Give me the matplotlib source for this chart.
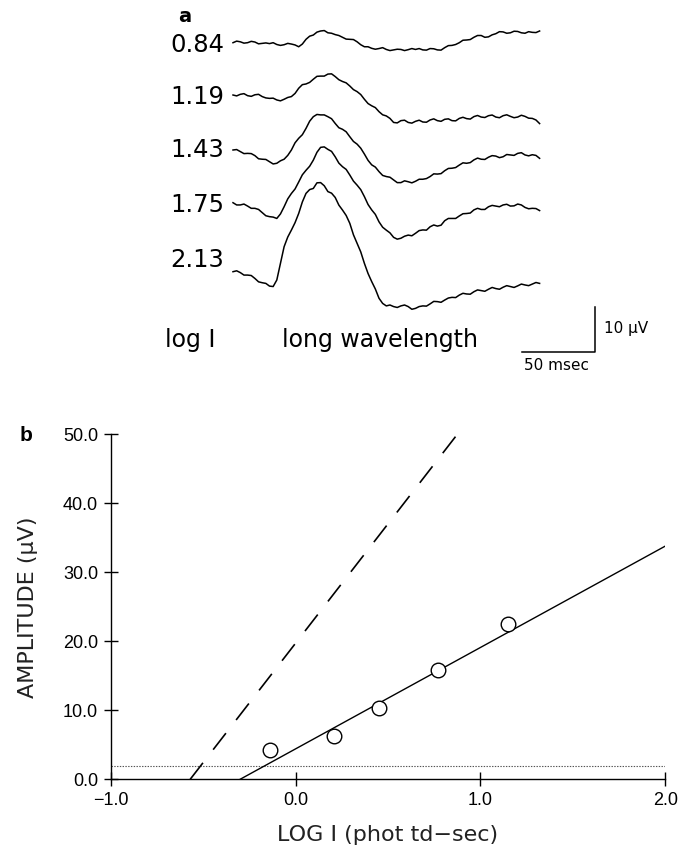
import matplotlib.pyplot as plt

plt.rcParams['lines.scale_dashes'] = False

# ---- panel a: averaged responses, long wavelength stimulus ----
t_ms = [0, 2.5, 5, 7.5, 10, 12.5, 15, 17.5, 20, 22.5, 25, 27.5, 30, 32.5, 35, 37.5,
        40, 42.5, 45, 47.5, 50, 52.5, 55, 57.5, 60, 62.5, 65, 67.5, 70, 72.5, 75, 77.5,
        80, 82.5, 85, 87.5, 90, 92.5, 95, 97.5, 100, 102.5, 105, 107.5, 110, 112.5,
        115, 117.5, 120, 122.5, 125, 127.5, 130, 132.5, 135, 137.5, 140, 142.5, 145,
        147.5, 150, 152.5, 155, 157.5, 160, 162.5, 165, 167.5, 170, 172.5, 175, 177.5,
        180, 182.5, 185, 187.5, 190, 192.5, 195, 197.5, 200, 202.5, 205, 207.5, 210]
log_i_labels = ['0.84', '1.19', '1.43', '1.75', '2.13']

trace_084 = [0, 0.35, 0.2, -0.1, 0, 0.3, 0.15, -0.25, -0.15, -0.05,
             -0.2, 0.0, -0.4, -0.6, -0.45, -0.15, -0.3, -0.5, -0.9, -0.3,
             0.75, 1.45, 1.7, 2.35, 2.6, 2.7, 2.2, 2.1, 1.8, 1.6,
             1.2, 0.8, 0.75, 0.7, 0.2, -0.45, -0.9, -0.9, -1.25, -1.45,
             -1.3, -1.1, -1.5, -1.75, -1.6, -1.45, -1.5, -1.75, -1.55, -1.3,
             -1.5, -1.3, -1.6, -1.65, -1.3, -1.35, -1.6, -1.65, -1.1, -0.65,
             -0.6, -0.4, 0, 0.55, 0.6, 0.7, 1.2, 1.6, 1.6, 1.2,
             1.3, 1.75, 2.0, 2.45, 2.4, 2.1, 2.2, 2.55, 2.5, 2.2,
             2.1, 2.45, 2.3, 2.25, 2.6]
trace_119 = [0, -0.2, 0.15, 0.3, -0.15, -0.3, 0.05, 0.15, -0.35, -0.65,
             -0.75, -0.7, -1.1, -1.3, -0.95, -0.55, -0.35, 0.35, 1.5, 2.3,
             2.45, 2.8, 3.5, 4.15, 4.2, 4.2, 4.65, 4.7, 4.1, 3.4,
             3.0, 2.7, 2.0, 1.2, 0.75, 0.1, -0.95, -1.9, -2.4, -2.8,
             -3.7, -4.4, -4.65, -5.2, -6.1, -6.2, -5.7, -5.6, -6.1, -6.25,
             -5.85, -5.6, -6.0, -6.05, -5.55, -5.3, -5.7, -5.85, -5.4, -5.3,
             -5.7, -5.75, -5.2, -4.95, -5.25, -5.35, -4.8, -4.55, -4.9, -5.0,
             -4.6, -4.45, -4.9, -5.05, -4.6, -4.4, -4.75, -5.05, -4.9, -4.5,
             -4.75, -5.15, -5.2, -5.55, -6.35]
trace_143 = [0, 0.1, -0.35, -0.8, -0.75, -0.8, -1.25, -1.95, -2.05, -2.1,
             -2.6, -3.1, -2.95, -2.4, -2.05, -1.2, 0, 1.6, 2.6, 3.4,
             4.8, 6.4, 7.4, 7.9, 7.8, 7.8, 7.4, 6.95, 5.9, 4.95,
             4.6, 4.05, 2.95, 1.9, 1.3, 0.4, -0.9, -2.3, -3.3, -3.8,
             -4.8, -5.65, -5.9, -6.05, -6.65, -7.25, -7.25, -6.85, -7.05, -7.3,
             -6.95, -6.5, -6.5, -6.35, -5.9, -5.3, -5.35, -5.25, -4.6, -4.1,
             -4.05, -3.9, -3.35, -2.85, -2.95, -2.8, -2.2, -1.8, -2.05, -2.1,
             -1.6, -1.25, -1.35, -1.7, -1.5, -1.0, -1.1, -1.2, -0.75, -0.6,
             -1.1, -1.3, -1.05, -1.2, -1.85]
trace_175 = [0, -0.5, -0.5, -0.3, -0.75, -1.25, -1.25, -1.5, -2.2, -2.9,
             -3.1, -3.2, -3.5, -2.5, -0.9, 0.85, 2.05, 3.05, 4.6, 6.2,
             7.2, 8.1, 9.45, 11.2, 12.3, 12.4, 11.85, 11.4, 10.2, 8.8,
             8.0, 7.4, 6.15, 4.8, 3.9, 2.9, 1.35, -0.4, -1.6, -2.6,
             -4.25, -5.45, -6.1, -6.7, -7.7, -8.1, -7.9, -7.45, -7.2, -7.35,
             -6.8, -6.2, -6.05, -6.1, -5.35, -4.95, -5.2, -5.0, -4.0, -3.5,
             -3.5, -3.5, -2.95, -2.45, -2.4, -2.3, -1.6, -1.25, -1.5, -1.5,
             -0.9, -0.6, -0.75, -0.9, -0.5, -0.35, -0.75, -0.7, -0.3, -0.5,
             -1.05, -1.35, -1.25, -1.3, -1.75]
trace_213 = [0, 0.2, -0.2, -0.75, -0.75, -0.85, -1.5, -2.25, -2.45, -2.6,
             -3.2, -3.3, -1.85, 1.85, 5.55, 7.7, 9.25, 10.9, 12.95, 15.5,
             17.4, 18.25, 18.5, 19.75, 19.8, 19.1, 17.8, 17.45, 16.5, 14.8,
             13.7, 12.5, 10.75, 8.2, 6.3, 4.4, 1.85, -0.4, -2.2, -3.85,
             -5.9, -7.05, -7.6, -7.4, -7.75, -7.95, -7.6, -7.4, -7.75, -8.35,
             -8.15, -7.75, -7.6, -7.65, -7.15, -6.6, -6.65, -6.8, -6.3, -5.85,
             -5.7, -5.75, -5.2, -4.8, -4.95, -5.0, -4.45, -4.05, -4.2, -4.35,
             -3.9, -3.5, -3.75, -3.9, -3.45, -3.1, -3.3, -3.5, -3.15, -2.75,
             -2.95, -3.1, -2.75, -2.4, -2.6]
traces = [trace_084, trace_119, trace_143, trace_175, trace_213]

# ---- panel b: amplitude vs log intensity ----
log_i_b = [-0.14, 0.21, 0.45, 0.77, 1.15]
amp_b = [4.3, 6.3, 10.3, 15.8, 22.5]
fit_x = [-0.30, 2.0]
fit_y = [0.0, 33.8]
dash_x = [-0.57, 0.875]
dash_y = [0.0, 50.0]
noise_level = 2.0

W, H = 680, 855
fig = plt.figure(figsize=(W / 100, H / 100), dpi=100)


def fx(x):
    return x / W


def fy(y):
    return 1 - y / H


# top panel drawn in msec / microvolt units (73 px per 50 msec, 4.5 px per uV)
top_h = 380
ax_a = fig.add_axes([0, fy(top_h), 1, top_h / H])
ax_a.set_xlim(-233 * 50 / 73, (W - 233) * 50 / 73)
ax_a.set_ylim(0, top_h / 4.5)
ax_a.axis('off')

offsets = [(top_h - y) / 4.5 for y in [42.7, 95, 150, 202.7, 271.7]]
for tr, off in zip(traces, offsets):
    ax_a.plot(t_ms, [v + off for v in tr], color='black', lw=1.1)

label_y = [45, 97, 150, 205, 260]
for lab, y in zip(log_i_labels, label_y):
    fig.text(fx(224), fy(y), lab, ha='right', va='center', fontsize=17.5,
             family='DejaVu Sans')

fig.text(fx(185), fy(17), 'a', ha='center', va='center', fontsize=14,
         fontweight='bold', family='DejaVu Sans')
fig.text(fx(190), fy(340), 'log I', ha='center', va='center', fontsize=17,
         family='DejaVu Sans')
fig.text(fx(380), fy(340), 'long wavelength', ha='center', va='center', fontsize=17,
         family='DejaVu Sans')

# scale bar: 50 msec x 10 uV
bar_t = 248
bar_y = (top_h - 352) / 4.5
ax_a.plot([bar_t - 50, bar_t, bar_t], [bar_y, bar_y, bar_y + 10], color='black', lw=1.1)
fig.text(fx(604), fy(329), '10 µV', ha='left', va='center', fontsize=11,
         family='DejaVu Sans')
fig.text(fx(556), fy(365), '50 msec', ha='center', va='center', fontsize=11,
         family='DejaVu Sans')

# bottom panel
ax_b = fig.add_axes([fx(110.7), fy(779.3), (665.3 - 110.7) / W, (779.3 - 434.3) / H])
ax_b.set_xlim(-1.0, 2.0)
ax_b.set_ylim(0.0, 50.0)
for s in ['top', 'right']:
    ax_b.spines[s].set_visible(False)
for s in ['left', 'bottom']:
    ax_b.spines[s].set_linewidth(1.0)
ax_b.set_xticks([-1.0, 0.0, 1.0, 2.0])
ax_b.set_yticks([0, 10, 20, 30, 40, 50])
ax_b.set_xticklabels(['\u22121.0', '0.0', '1.0', '2.0'])
ax_b.set_yticklabels(['0.0', '10.0', '20.0', '30.0', '40.0', '50.0'])
ax_b.tick_params(direction='inout', length=10, width=1.0, labelsize=13, pad=4)
for lab in ax_b.get_xticklabels() + ax_b.get_yticklabels():
    lab.set_family('Liberation Sans')

ax_b.axhline(noise_level, color='#555555', lw=0.8, ls=(0, (1, 1)))
ax_b.plot(fit_x, fit_y, color='black', lw=1.0)
ax_b.plot(dash_x, dash_y, color='black', lw=1.2, dashes=(15, 12))
ax_b.plot(log_i_b, amp_b, 'o', ms=10.5, mfc='white', mec='black', mew=1.0, zorder=5,
          clip_on=False)

ax_b.set_xlabel('LOG I (phot td\u2212sec)', fontsize=16, family='DejaVu Sans',
                color='#222222', labelpad=12)
ax_b.set_ylabel('AMPLITUDE (µV)', fontsize=16, family='DejaVu Sans',
                color='#222222', labelpad=18)
fig.text(fx(26), fy(435), 'b', ha='center', va='center', fontsize=15,
         fontweight='bold', family='Liberation Sans')

fig.savefig('out.png', dpi=100)
